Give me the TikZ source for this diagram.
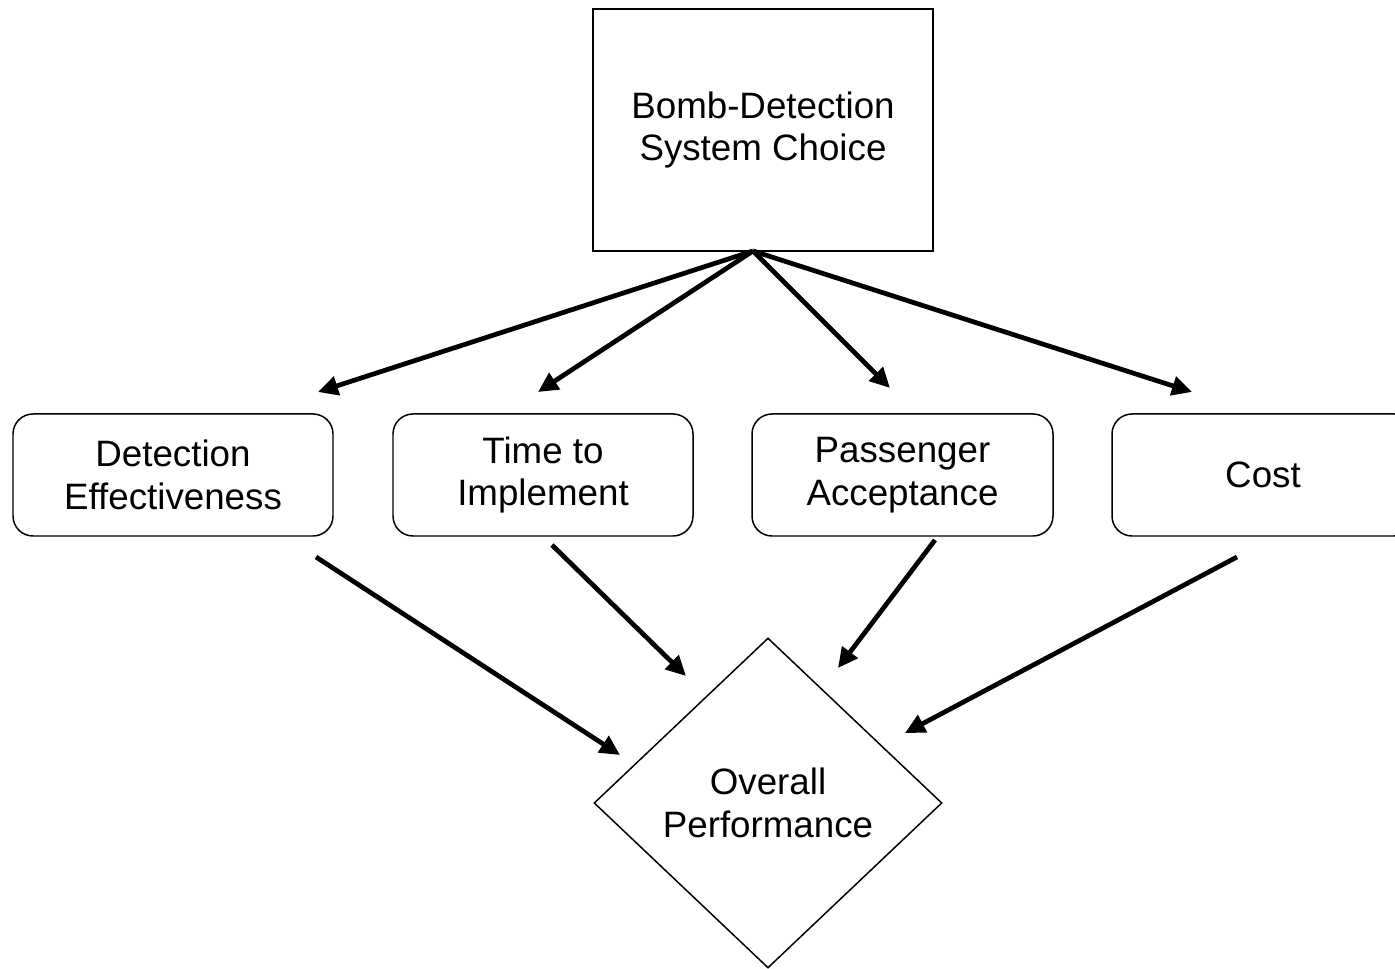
\documentclass[tikz,border=0pt]{standalone}
\usepackage{fontspec}
\setmainfont{Liberation Sans}
\usetikzlibrary{shapes.geometric,arrows.meta}

\begin{document}
\begin{tikzpicture}[
    every node/.style={align=center, font=\fontsize{20.9}{24.4}\selectfont},
    choice/.style={draw, line width=0.85pt, minimum width=6.8cm, minimum height=4.84cm},
    factor/.style={draw, line width=0.85pt, rounded corners=0.4cm, minimum height=2.44cm},
    result/.style={draw, diamond, line width=0.85pt, minimum width=6.96cm, minimum height=6.6cm, inner sep=0pt},
    link/.style={->, line width=2.7pt},
    >={Triangle[length=0.4cm, width=0.38cm]}]
      \useasboundingbox (0,0) rectangle (27.9,-19.38);
      \clip (0,0) rectangle (27.9,-19.38);
      \node[choice] (choice) at (15.26,-2.6) {Bomb-Detection\\System Choice};
      \node[factor, minimum width=6.4cm] (detect) at (3.46,-9.5) {Detection\\Effectiveness};
      \node[factor, minimum width=6.0cm] (time) at (10.86,-9.5) {Time to\\Implement};
      \node[factor, minimum width=6.02cm] (pass) at (18.05,-9.5) {Passenger\\Acceptance};
      \node[factor, minimum width=6.04cm] (cost) at (25.26,-9.5) {Cost};
      \node[result] (overall) at (15.36,-16.06) {Overall\\Performance};
      % arrows stop short of the boxes
      \coordinate (fan) at (15.06,-5.02);
      \coordinate (detectin) at (6.36,-7.84);
      \coordinate (timein) at (10.76,-7.84);
      \coordinate (passin) at (17.8,-7.76);
      \coordinate (costin) at (23.84,-7.84);
      \coordinate (detectout) at (6.32,-11.14);
      \coordinate (timeout) at (11.04,-10.9);
      \coordinate (passout) at (18.7,-10.8);
      \coordinate (costout) at (24.74,-11.14);
      \coordinate (overallA) at (12.4,-15.1);
      \coordinate (overallB) at (13.72,-13.52);
      \coordinate (overallC) at (16.76,-13.36);
      \coordinate (overallD) at (18.1,-14.66);
      \draw[link] (fan) -- (detectin);
      \draw[link] (fan) -- (timein);
      \draw[link] (fan) -- (passin);
      \draw[link] (fan) -- (costin);
      \draw[link] (detectout) -- (overallA);
      \draw[link] (timeout) -- (overallB);
      \draw[link] (passout) -- (overallC);
      \draw[link] (costout) -- (overallD);
    \end{tikzpicture}
\end{document}
